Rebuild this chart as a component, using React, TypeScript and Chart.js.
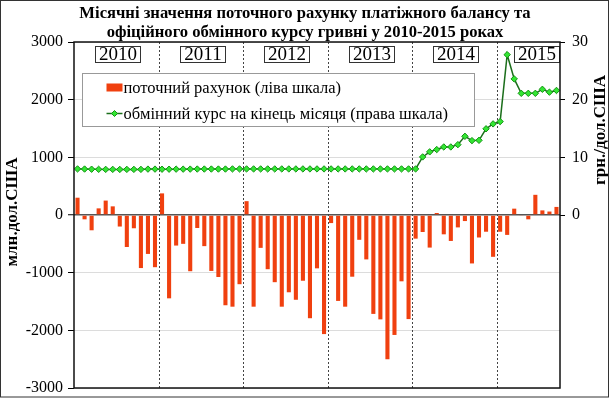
import React, { useEffect, useRef } from 'react';
import { Chart, registerables } from 'chart.js';

Chart.register(...registerables);

// ---- data ----
const years = ['2010', '2011', '2012', '2013', '2014', '2015'];
const monthsPerYear = [12, 12, 12, 12, 12, 9];

const currentAccount2010 = [300, -75, -265, 115, 250, 150, -200, -555, -230, -920, -675, -905];
const currentAccount2011 = [375, -1445, -530, -500, -975, -225, -540, -970, -1075, -1565, -1590, -1200];
const currentAccount2012 = [240, -1590, -570, -940, -1165, -1590, -1340, -1470, -1140, -1790, -925, -2065];
const currentAccount2013 = [-140, -1490, -1590, -1070, -430, -770, -1715, -1810, -2500, -2080, -1150, -1805];
const currentAccount2014 = [-410, -295, -565, 35, -335, -450, -215, -105, -840, -390, -290, -725];
const currentAccount2015 = [-290, -345, 110, -15, -75, 350, 80, 60, 140];

const rate2010 = [7.99, 7.97, 7.94, 7.92, 7.91, 7.91, 7.9, 7.91, 7.91, 7.91, 7.96, 7.96];
const rate2011 = [7.94, 7.94, 7.95, 7.95, 7.96, 7.97, 7.97, 7.97, 7.97, 7.97, 7.99, 7.99];
const rate2012 = [7.99, 7.99, 7.99, 7.99, 7.99, 7.99, 7.99, 7.99, 7.99, 7.99, 7.99, 7.99];
const rate2013 = [7.99, 7.99, 7.99, 7.99, 7.99, 7.99, 7.99, 7.99, 7.99, 7.99, 7.99, 7.99];
const rate2014 = [7.99, 10.07, 10.95, 11.35, 11.8, 11.8, 12.2, 13.65, 12.9, 12.95, 14.95, 15.8];
const rate2015 = [16.2, 27.8, 23.6, 21.1, 21.1, 21.1, 21.8, 21.3, 21.6];

const leftTicks = [-3000, -2000, -1000, 0, 1000, 2000, 3000];
const rightTicks = [0, 10, 20, 30];

const titleLines = [
  'Місячні значення поточного рахунку платіжного балансу та',
  'офіційного обмінного курсу гривні у 2010-2015 роках',
];
const leftAxisTitle = 'млн.дол.США';
const rightAxisTitle = 'грн./дол.США';
const seriesLabels = ['поточний рахунок (ліва шкала)', 'обмінний курс на кінець місяця (права шкала)'];

const monthLabels: string[] = [];
years.forEach((y, i) => {
  for (let m = 1; m <= monthsPerYear[i]; m++) monthLabels.push(`${y}-${String(m).padStart(2, '0')}`);
});
const currentAccount = [
  ...currentAccount2010, ...currentAccount2011, ...currentAccount2012,
  ...currentAccount2013, ...currentAccount2014, ...currentAccount2015,
];
const exchangeRate = [...rate2010, ...rate2011, ...rate2012, ...rate2013, ...rate2014, ...rate2015];

const SERIF = '"Liberation Serif", "Times New Roman", serif';
const BAR_COLOR = '#F0400F';
const LINE_COLOR = '#1B6E1B';
const POINT_FILL = '#33E633';
const POINT_BORDER = '#129412';

function diamond(ctx: CanvasRenderingContext2D, x: number, y: number, r: number) {
  ctx.beginPath();
  ctx.moveTo(x, y - r);
  ctx.lineTo(x + r, y);
  ctx.lineTo(x, y + r);
  ctx.lineTo(x - r, y);
  ctx.closePath();
  ctx.fillStyle = POINT_FILL;
  ctx.fill();
  ctx.strokeStyle = POINT_BORDER;
  ctx.lineWidth = 1;
  ctx.stroke();
}

const decorPlugin = {
  id: 'decor',
  beforeDraw(chart: any) {
    const { ctx, width, height } = chart;
    ctx.save();
    ctx.fillStyle = '#fff';
    ctx.fillRect(0, 0, width, height);
    ctx.restore();
  },
  beforeDatasetsDraw(chart: any) {
    const { ctx, chartArea } = chart;
    const x = chart.scales.x;
    ctx.save();
    ctx.setLineDash([2, 2]);
    ctx.strokeStyle = '#444';
    ctx.lineWidth = 1;
    let idx = 0;
    for (let k = 0; k < years.length - 1; k++) {
      idx += monthsPerYear[k];
      const px = Math.round((x.getPixelForValue(idx - 1) + x.getPixelForValue(idx)) / 2) + 0.5;
      ctx.beginPath();
      ctx.moveTo(px, chartArea.top);
      ctx.lineTo(px, chartArea.bottom);
      ctx.stroke();
    }
    ctx.restore();
  },
  afterDatasetsDraw(chart: any) {
    const { ctx, chartArea } = chart;
    const x = chart.scales.x;
    ctx.save();
    // year boxes
    let idx = 0;
    ctx.font = `19px ${SERIF}`;
    ctx.textAlign = 'center';
    ctx.textBaseline = 'middle';
    for (let k = 0; k < years.length; k++) {
      const start = k === 0 ? chartArea.left : (x.getPixelForValue(idx - 1) + x.getPixelForValue(idx)) / 2;
      idx += monthsPerYear[k];
      const w = 45;
      const h = 16;
      let left = start + 21;
      if (left + w > chartArea.right - 1) left = chartArea.right - 1 - w;
      left = Math.round(left) + 0.5;
      const top = Math.round(chartArea.top + 4) + 0.5;
      ctx.fillStyle = '#fff';
      ctx.fillRect(left, top, w, h);
      ctx.strokeStyle = '#333';
      ctx.lineWidth = 1;
      ctx.strokeRect(left, top, w, h);
      ctx.fillStyle = '#000';
      ctx.fillText(years[k], left + w / 2, top + h / 2 + 1);
    }
    // legend box
    const lx = Math.round(chartArea.left + 8) + 0.5;
    const ly = Math.round(chartArea.top + 31) + 0.5;
    const lw = 392;
    const lh = 53;
    ctx.fillStyle = '#fff';
    ctx.fillRect(lx, ly, lw, lh);
    ctx.strokeStyle = '#999';
    ctx.strokeRect(lx, ly, lw, lh);
    const symX = lx + 24;
    ctx.fillStyle = BAR_COLOR;
    ctx.fillRect(symX, ly + 10, 16, 8);
    ctx.strokeStyle = LINE_COLOR;
    ctx.lineWidth = 1.5;
    ctx.beginPath();
    ctx.moveTo(symX, ly + 40);
    ctx.lineTo(symX + 16, ly + 40);
    ctx.stroke();
    diamond(ctx, symX + 8, ly + 40, 3);
    ctx.fillStyle = '#000';
    ctx.font = `16.5px ${SERIF}`;
    ctx.textAlign = 'left';
    ctx.textBaseline = 'middle';
    ctx.fillText(seriesLabels[0], symX + 17, ly + 15);
    ctx.fillText(seriesLabels[1], symX + 17, ly + 41);
    ctx.restore();
  },
  afterDraw(chart: any) {
    const { ctx, chartArea, width, height } = chart;
    ctx.save();
    // plot frame
    ctx.strokeStyle = '#111';
    ctx.lineWidth = 1.5;
    ctx.strokeRect(chartArea.left, chartArea.top, chartArea.right - chartArea.left, chartArea.bottom - chartArea.top);
    // title
    ctx.fillStyle = '#000';
    ctx.font = `bold 16.6px ${SERIF}`;
    ctx.textAlign = 'center';
    ctx.textBaseline = 'middle';
    ctx.fillText(titleLines[0], 305, 14);
    ctx.fillText(titleLines[1], 305, 33);
    // axis titles
    ctx.font = `bold 17px ${SERIF}`;
    ctx.save();
    ctx.translate(13, 212);
    ctx.rotate(-Math.PI / 2);
    ctx.fillText(leftAxisTitle, 0, 0);
    ctx.restore();
    ctx.save();
    ctx.translate(601, 130);
    ctx.rotate(-Math.PI / 2);
    ctx.fillText(rightAxisTitle, 0, 0);
    ctx.restore();
    // outer border
    ctx.strokeStyle = '#333';
    ctx.lineWidth = 1;
    ctx.strokeRect(0.5, 0.5, width - 2, height - 1.5);
    ctx.restore();
  },
};

export default function App() {
  const ref = useRef<HTMLCanvasElement | null>(null);
  useEffect(() => {
    if (!ref.current) return;
    const chart = new Chart(ref.current, {
      type: 'bar',
      data: {
        labels: monthLabels,
        datasets: [
          {
            type: 'line',
            label: seriesLabels[1],
            data: exchangeRate,
            yAxisID: 'y1',
            borderColor: LINE_COLOR,
            borderWidth: 1.5,
            pointStyle: 'rectRot',
            pointRadius: 3.2,
            pointBackgroundColor: POINT_FILL,
            pointBorderColor: POINT_BORDER,
            pointBorderWidth: 1,
            tension: 0,
            order: 0,
          } as any,
          {
            type: 'bar',
            label: seriesLabels[0],
            data: currentAccount,
            yAxisID: 'y',
            backgroundColor: BAR_COLOR,
            borderWidth: 0,
            categoryPercentage: 1,
            barPercentage: 0.58,
            order: 1,
          } as any,
        ],
      },
      options: {
        responsive: false,
        animation: false,
        layout: { padding: { left: 26, right: 21, top: 42, bottom: 10 } },
        plugins: {
          legend: { display: false },
          title: { display: false },
          tooltip: { enabled: false },
        },
        scales: {
          x: {
            type: 'category',
            display: false,
            offset: true,
            grid: { display: false },
          },
          y: {
            position: 'left',
            min: leftTicks[0],
            max: leftTicks[leftTicks.length - 1],
            afterBuildTicks: (scale: any) => {
              scale.ticks = leftTicks.map((v) => ({ value: v }));
            },
            afterFit: (scale: any) => {
              scale.width = 48;
            },
            border: { display: false },
            grid: {
              color: (c: any) => (c.tick && c.tick.value === 0 ? '#555' : '#dcdcdc'),
              lineWidth: (c: any) => (c.tick && c.tick.value === 0 ? 1.5 : 1),
              tickColor: '#000',
              tickLength: 6,
              tickWidth: 1,
            },
            ticks: {
              color: '#000',
              font: { family: SERIF, size: 16, lineHeight: 0.3 },
              padding: 5,
              callback: (v: any) => String(v),
            },
          },
          y1: {
            position: 'right',
            min: -30,
            max: 30,
            afterBuildTicks: (scale: any) => {
              scale.ticks = [-30, -20, -10, ...rightTicks].map((v) => ({ value: v }));
            },
            afterFit: (scale: any) => {
              scale.width = 29;
            },
            border: { display: false },
            grid: {
              drawOnChartArea: false,
              tickColor: (c: any) => (c.tick && c.tick.value < 0 ? 'rgba(0,0,0,0)' : '#000'),
              tickLength: 5,
            },
            ticks: {
              color: '#000',
              font: { family: SERIF, size: 16, lineHeight: 0.3 },
              padding: 7,
              callback: (v: any) => (Number(v) >= 0 ? String(v) : ''),
            },
          },
        },
      },
      plugins: [decorPlugin],
    });
    return () => chart.destroy();
  }, []);

  return (
    <div style={{ position: 'fixed', left: 0, top: 0, width: 610, height: 398, background: '#fff' }}>
      <canvas ref={ref} width={610} height={398} style={{ width: 610, height: 398, display: 'block' }} />
    </div>
  );
}
